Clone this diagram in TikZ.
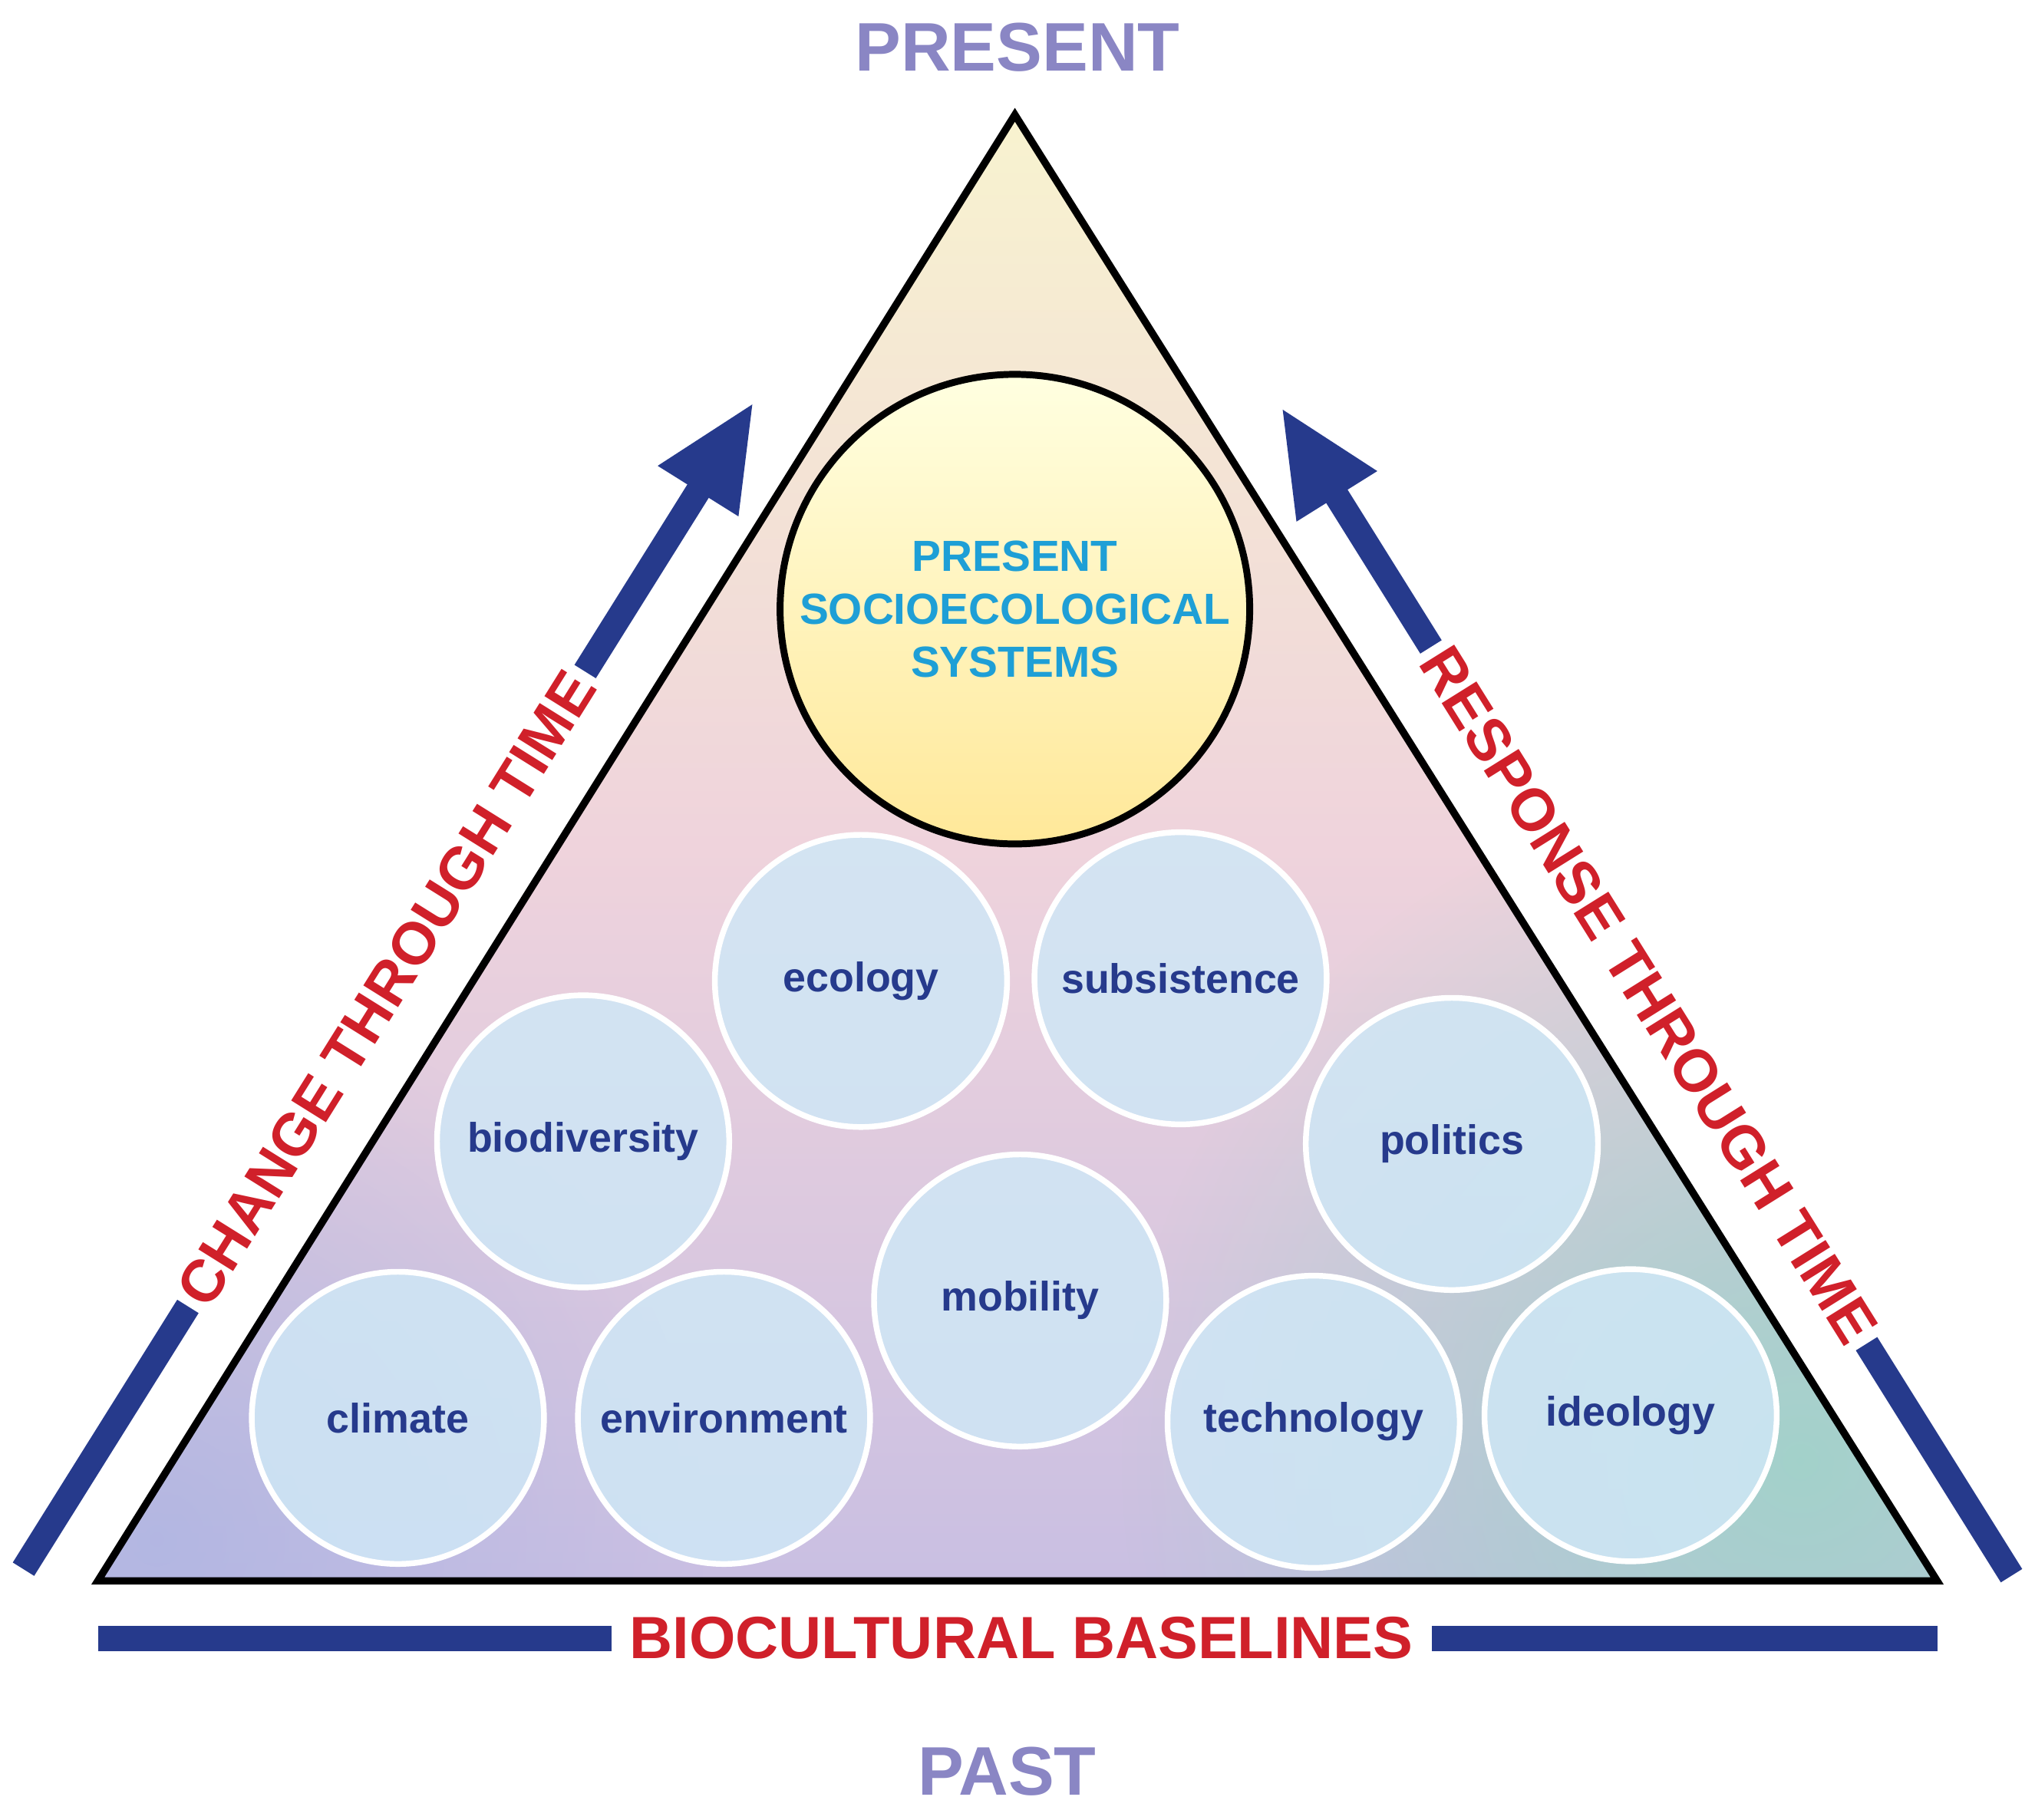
\documentclass[tikz,border=0pt]{standalone}
\usepackage{fontspec}
\setmainfont{Liberation Sans}
\usetikzlibrary{arrows.meta,fadings}
\tikzfading[name=softc, inner color=transparent!0, outer color=transparent!100]
\definecolor{lav}{HTML}{8A86C4}
\definecolor{navy}{HTML}{263A8C}
\definecolor{red1}{HTML}{D0202A}
\definecolor{cyan1}{HTML}{1E9FD6}
\definecolor{cfill}{HTML}{CFE7F6}
\definecolor{ttop}{HTML}{F8F3CF}
\definecolor{tmid}{HTML}{EFD3DC}
\definecolor{tbot}{HTML}{C9BFE2}
\definecolor{teal1}{HTML}{9ED3C8}
\definecolor{blu1}{HTML}{A9B3E2}
\tikzset{
 px/.style={x=0.02cm,y=-0.02cm},
 bigtxt/.style={font=\fontsize{30}{32}\selectfont\bfseries},
 sidetxt/.style={font=\fontsize{26}{28}\selectfont\bfseries, text=red1, fill=white, inner sep=3pt},
 small/.style={circle, minimum size=224*0.02cm, fill=cfill, fill opacity=0.85, text opacity=1, draw=white, line width=2.5pt, text=navy, font=\fontsize{18}{20}\selectfont\bfseries},
 bar/.style={draw=navy, line width=11pt},
 arr/.style={bar, -{Triangle[length=46pt,width=38pt]}},
}
\begin{document}
\begin{tikzpicture}[px]
\useasboundingbox (0,0) rectangle (1560,1395);
\coordinate (A) at (778,88);
\coordinate (B) at (75,1212);
\coordinate (C) at (1485,1212);
\shade[top color=ttop, bottom color=tbot, middle color=tmid] (A)--(B)--(C)--cycle;
\begin{scope}
\clip (A)--(B)--(C)--cycle;
\fill[teal1, path fading=softc, fill opacity=0.9] (1380,1120) circle (520);
\fill[blu1, path fading=softc, fill opacity=0.7] (120,1180) circle (420);
\end{scope}
% circles
\node[small] (ecology) at (660,752) {ecology};
\node[small] (subs) at (905,750) {subsistence};
\node[small] (bio) at (447,875) {biodiversity};
\node[small] (pol) at (1113,877) {politics};
\node[small] (mob) at (782,997) {mobility};
\node[small] (cli) at (305,1087) {climate};
\node[small] (env) at (555,1087) {environment};
\node[small] (tech) at (1007,1090) {technology};
\node[small] (ideo) at (1250,1085) {ideology};
\shade[draw=black, line width=3pt, top color=yellow!12!white, bottom color=yellow!55!orange!40!white] (778,467) circle (180);
\node[align=center, text=cyan1, font=\fontsize{19}{23}\selectfont\bfseries] (pss) at (778,467) {PRESENT\\SOCIOECOLOGICAL\\SYSTEMS};
\draw[line width=3.2pt, line join=miter] (A)--(B)--(C)--cycle;
% labels
\node[bigtxt, text=lav] (present) at (780,36) {PRESENT};
\node[bigtxt, text=lav] (past) at (772,1358) {PAST};
% arrows
\coordinate (l1) at (18,1203);
\coordinate (l2) at (578,308);
\draw[arr] (l1)--(l2);
\node[sidetxt, rotate=58.0] (ch) at (296,758) {CHANGE THROUGH TIME};
\coordinate (r1) at (1542,1208);
\coordinate (r2) at (982,312);
\draw[arr] (r1)--(r2);
\node[sidetxt, rotate=-58.0] (re) at (1264,763) {RESPONSE THROUGH TIME};
\coordinate (b1) at (75,1256);
\coordinate (b2) at (1485,1256);
\draw[bar] (b1)--(b2);
\node[sidetxt, inner xsep=8pt] (bb) at (783,1256) {BIOCULTURAL BASELINES};
\end{tikzpicture}
\end{document}
